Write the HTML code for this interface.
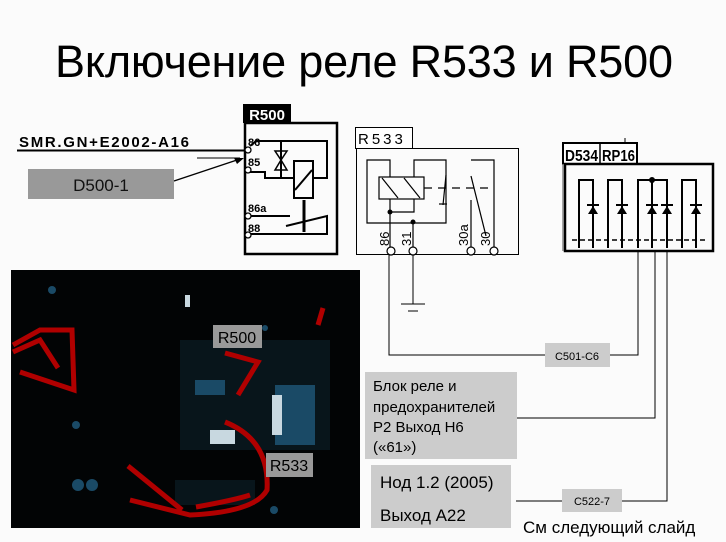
<!DOCTYPE html>
<html><head><meta charset="utf-8"><style>
body{margin:0;background:#fbfbfb;}
svg{display:block;font-family:"Liberation Sans",sans-serif;}
</style></head><body>
<svg width="726" height="542" viewBox="0 0 726 542" xmlns="http://www.w3.org/2000/svg">
<rect width="726" height="542" fill="#fbfbfb"/>
<text x="364" y="77" font-size="45" text-anchor="middle" fill="#000" textLength="618">Включение реле R533 и R500</text>

<!-- SMR -->
<text x="19" y="147" font-size="15" font-weight="bold" fill="#000" textLength="170">SMR.GN+E2002-A16</text>
<line x1="17" y1="150.5" x2="246" y2="150.5" stroke="#000" stroke-width="2"/>
<line x1="197" y1="158" x2="240" y2="158" stroke="#000" stroke-width="1"/>
<rect x="28" y="169" width="146" height="30" fill="#999"/>
<text x="101" y="191" font-size="17" text-anchor="middle" fill="#111">D500-1</text>
<line x1="174" y1="181" x2="240" y2="159" stroke="#000" stroke-width="1.3"/>
<polygon points="244,158 234,158 237,164" fill="#000"/>

<!-- R500 -->
<rect x="243" y="104" width="48" height="19" fill="#000"/>
<text x="267" y="120" font-size="15" font-weight="bold" fill="#fff" text-anchor="middle">R500</text>
<rect x="245" y="123" width="92" height="131" fill="none" stroke="#000" stroke-width="2.5"/>
<g stroke="#000" stroke-width="2" fill="none">
<polyline points="250,146 256,141 327,141 327,178 313,178"/>
<polyline points="250,172 265,172 265,178 294,178"/>
<line x1="281" y1="141" x2="281" y2="178"/>
<rect x="294" y="161" width="19" height="37"/>
<line x1="295" y1="190" x2="312" y2="170"/>
<line x1="250" y1="216" x2="290" y2="216"/>
<polyline points="286,226 327,216 327,234 250,234"/>
<line x1="304" y1="200" x2="304" y2="232" stroke-width="3"/>
</g>
<polygon points="275,151 287,151 281,160" fill="none" stroke="#000" stroke-width="1.5"/>
<polygon points="275,170 287,170 281,160" fill="none" stroke="#000" stroke-width="1.5"/>
<g font-size="11" font-weight="bold" fill="#000">
<text x="248" y="146">86</text><text x="248" y="166">85</text>
<text x="248" y="212">86a</text><text x="248" y="232">88</text></g>
<g fill="#fff" stroke="#000" stroke-width="1.3">
<circle cx="248" cy="150" r="3"/><circle cx="248" cy="170" r="3"/>
<circle cx="248" cy="216" r="3"/><circle cx="248" cy="235" r="3"/></g>

<!-- R533 -->
<rect x="355.5" y="127.5" width="57" height="21" fill="#fff" stroke="#000"/>
<text x="358" y="144" font-size="15" fill="#000" letter-spacing="3">R533</text>
<rect x="356.5" y="148.5" width="162" height="106" fill="none" stroke="#000"/>
<g stroke="#000" stroke-width="1.2" fill="none">
<polyline points="390,177 390,160 367,160 367,223 446,223 446,160 414,160 414,177"/>
<rect x="379" y="177" width="45" height="22"/>
<line x1="382" y1="178" x2="398" y2="198"/><line x1="404" y1="178" x2="420" y2="198"/>
<polyline points="390,199 390,250"/><polyline points="390,212 414,212 414,199"/>
<line x1="413" y1="223" x2="413" y2="250"/>
<line x1="446" y1="175" x2="443" y2="205"/><line x1="439" y1="204" x2="447" y2="204"/>
<line x1="424" y1="188" x2="490" y2="188" stroke-dasharray="8,6"/>
<polyline points="494,250 494,160 471,160"/>
<line x1="471" y1="176" x2="486" y2="236"/>
<line x1="471" y1="200" x2="471" y2="250"/>
</g>
<circle cx="390" cy="212" r="2.5" fill="#000"/><circle cx="413" cy="222" r="2.5" fill="#000"/>
<g font-size="13" fill="#000">
<text transform="translate(389,246) rotate(-90)">86</text>
<text transform="translate(411,246) rotate(-90)">31</text>
<text transform="translate(468,246) rotate(-90)">30a</text>
<text transform="translate(490,246) rotate(-90)">30</text></g>
<g fill="#fff" stroke="#000" stroke-width="1.2">
<circle cx="391" cy="251" r="4"/><circle cx="413" cy="251" r="4"/>
<circle cx="471" cy="251" r="4"/><circle cx="494" cy="251" r="4"/></g>
<g stroke="#000" stroke-width="1" fill="none">
<polyline points="389,255 389,355 545,355"/>
<line x1="413" y1="255" x2="413" y2="304"/>
<line x1="401" y1="304" x2="425" y2="304"/>
<line x1="408" y1="311" x2="418" y2="311"/>
<polyline points="610,355 638,355 638,250"/>
<polyline points="516,418 655,418 655,250"/>
<polyline points="516,501 562,501"/>
<polyline points="622,501 667,501 667,250"/>
<line x1="625" y1="138" x2="625" y2="143"/>
</g>

<!-- D534 -->
<rect x="563" y="143" width="74" height="21" fill="#fff" stroke="#000" stroke-width="2"/>
<text x="565" y="161" font-size="16" font-weight="bold" fill="#000" textLength="33" lengthAdjust="spacingAndGlyphs">D534</text>
<line x1="600" y1="143" x2="600" y2="164" stroke="#000" stroke-width="1.5"/>
<text x="602" y="161" font-size="16" font-weight="bold" fill="#000" textLength="33" lengthAdjust="spacingAndGlyphs">RP16</text>
<rect x="565" y="164" width="148" height="87" fill="none" stroke="#000" stroke-width="2.5"/>
<line x1="563" y1="164" x2="563" y2="251" stroke="#888" stroke-width="1.5"/>
<g stroke="#000" stroke-width="2" fill="none">
<polyline points="579,248 579,180 593,180 593,248"/>
<polyline points="608,248 608,180 622,180 622,248"/>
<polyline points="638,248 638,180 667,180 667,248"/>
<line x1="652" y1="180" x2="652" y2="248"/>
<polyline points="682,248 682,180 696,180 696,248"/>
<line x1="572" y1="240" x2="706" y2="240" stroke-width="1.5" stroke-dasharray="5,3"/>
</g>
<circle cx="652" cy="180" r="3" fill="#000"/>
<g fill="#000">
<polygon points="588,214 598,214 593,206"/><polygon points="617,214 627,214 622,206"/>
<polygon points="647,214 657,214 652,206"/><polygon points="662,214 672,214 667,206"/>
<polygon points="691,214 701,214 696,206"/></g>
<g stroke="#000" stroke-width="2">
<line x1="587" y1="205" x2="599" y2="205"/><line x1="616" y1="205" x2="628" y2="205"/>
<line x1="646" y1="205" x2="658" y2="205"/><line x1="661" y1="205" x2="673" y2="205"/>
<line x1="690" y1="205" x2="702" y2="205"/></g>

<!-- labels -->
<rect x="545" y="343" width="65" height="24" fill="#ccc"/>
<text x="577" y="360" font-size="11" text-anchor="middle" fill="#000">C501-C6</text>
<rect x="365" y="372" width="152" height="87" fill="#ccc"/>
<g font-size="15" fill="#000"><text x="373" y="391">Блок реле и</text><text x="373" y="412">предохранителей</text>
<text x="373" y="432">Р2 Выход Н6</text><text x="373" y="452">(«61»)</text></g>
<rect x="371" y="465" width="140" height="63" fill="#ccc"/>
<g font-size="17" fill="#000"><text x="380" y="488">Нод 1.2 (2005)</text><text x="380" y="521">Выход А22</text></g>
<rect x="562" y="489" width="60" height="23" fill="#ccc"/>
<text x="592" y="505" font-size="11" text-anchor="middle" fill="#000">C522-7</text>
<text x="523" y="533" font-size="17" fill="#000">См следующий слайд</text>

<!-- photo -->
<rect x="11" y="270" width="349" height="258" fill="#020405"/>
<g fill="#08151b"><rect x="180" y="340" width="150" height="110"/><rect x="175" y="480" width="80" height="25"/></g>
<g fill="#1a4a66"><rect x="275" y="385" width="40" height="60"/><rect x="195" y="380" width="30" height="15"/><circle cx="78" cy="485" r="6"/><circle cx="92" cy="485" r="6"/><circle cx="274" cy="510" r="4"/><circle cx="52" cy="290" r="4"/><circle cx="76" cy="425" r="4"/><circle cx="265" cy="328" r="3"/></g>
<g fill="#c8d8e0"><rect x="210" y="430" width="25" height="14"/><rect x="272" y="395" width="10" height="40"/><rect x="185" y="295" width="5" height="12"/></g>
<g fill="none" stroke="#b00000" stroke-width="5">
<path d="M13,345 L40,330 L72,330 L74,390 L20,372"/>
<path d="M13,352 L40,340 L58,368"/>
<path d="M225,353 L258,362 L238,395"/>
<path d="M225,422 Q270,440 267,490 Q255,512 190,515 L130,500"/>
<path d="M128,466 L182,510"/>
<path d="M196,507 Q235,500 250,495"/>
<path d="M323,308 L318,325"/></g>
<rect x="213" y="325" width="49" height="23" fill="#999"/>
<text x="237" y="343" font-size="16" text-anchor="middle" fill="#000">R500</text>
<rect x="266" y="453" width="47" height="24" fill="#999"/>
<text x="289" y="471" font-size="16" text-anchor="middle" fill="#000">R533</text>
</svg>
</body></html>
